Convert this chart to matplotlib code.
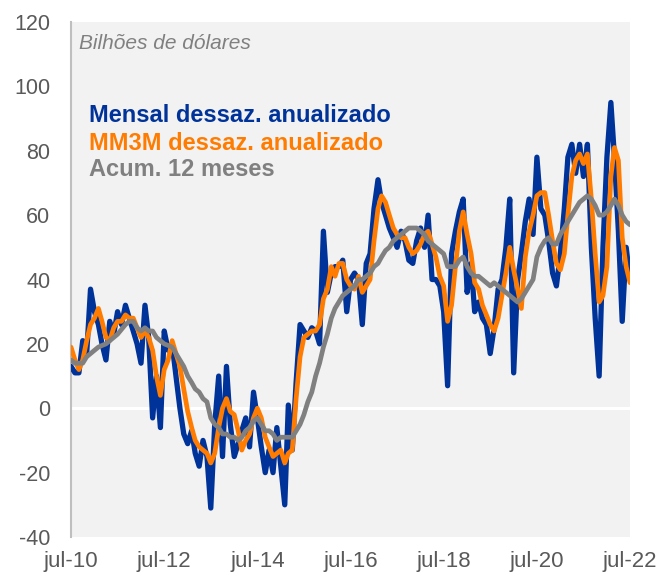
import matplotlib
matplotlib.use("Agg")
import matplotlib.pyplot as plt
import pandas as pd

plt.rcParams['font.family'] = ['Liberation Sans', 'DejaVu Sans']

start_month = "2010-07-01"

mensal = [
    13, 11, 11, 21, 17, 37, 30, 26, 20, 15,
    27, 23, 30, 26, 32, 28, 24, 20, 14, 32,
    22, -3, 10, -6, 24, 18, 20, 10, 0, -8,
    -11, -7, -14, -18, -10, -15, -31, -5, 10, -15,
    13, -5, -15, -11, -7, -3, -12, 5, -3, -12,
    -20, -13, -20, -6, -18, -30, 1, -13, 8, 26,
    24, 22, 25, 24, 20, 55, 36, 42, 44, 44,
    46, 30, 40, 42, 40, 26, 45, 48, 62, 71,
    64, 60, 56, 53, 50, 55, 52, 46, 45, 52,
    56, 50, 60, 40, 40, 38, 30, 7, 48, 55,
    61, 65, 36, 45, 30, 33, 28, 26, 17, 25,
    37, 40, 50, 65, 11, 40, 48, 58, 65, 54,
    78, 62, 60, 52, 42, 38, 48, 62, 78, 82,
    73, 82, 72, 82, 50, 28, 10, 50, 78, 95,
    78, 55, 27, 50, 40,
]

mm3m = [
    19, 15, 12, 15, 21, 26, 28, 31, 27, 22,
    21, 25, 27, 27, 29, 28, 28, 25, 22, 24,
    22, 18, 10, 4, 12, 15, 21, 17, 13, 6,
    -1, -6, -10, -12, -13, -14, -17, -14, -6, 0,
    3, -1, -2, -7, -13, -10, -8, -3, 0, -3,
    -9, -12, -15, -14, -13, -17, -14, -13, 3, 16,
    22, 23, 24, 24, 26, 34, 37, 44, 41, 45,
    45, 40, 38, 37, 41, 36, 38, 40, 52, 62,
    66, 64, 60, 56, 54, 53, 53, 50, 48, 49,
    51, 54, 55, 51, 47, 41, 38, 27, 32, 44,
    55, 61, 54, 48, 39, 37, 32, 29, 26, 24,
    28, 35, 42, 50, 43, 37, 31, 47, 55, 60,
    66, 67, 67, 60, 52, 45, 43, 48, 60, 72,
    77, 79, 76, 79, 65, 48, 33, 35, 44, 72,
    81, 77, 53, 44, 39,
]

acum12 = [
    15, 14, 14, 14, 16, 17, 18, 19, 19.5, 20,
    21, 22, 23, 24.5, 26, 27, 27, 25, 24, 25,
    24, 24, 22, 21, 20, 19.5, 19, 17, 15, 13,
    10, 8, 6, 5, 3, 2, -3, -5, -6, -8,
    -8, -9, -9, -10, -9, -7, -6, -4, -3, -5,
    -7, -7, -8, -10, -9, -9, -9, -9, -7, -5,
    -2, 2, 5, 10, 14, 19, 23, 28, 31, 33,
    35, 36, 37, 38, 40, 40, 41, 42, 44, 45,
    47, 49, 50, 52, 53, 54, 55, 56, 56, 56,
    55, 54, 52, 51, 50, 49, 48, 44, 44, 44,
    46, 47, 44, 42, 41, 41, 40, 39, 38, 39,
    38, 37, 36, 35, 34, 33, 34, 36, 38, 40,
    47, 50, 52, 53, 51, 51, 54, 56, 58, 60,
    62, 64, 65, 66, 65, 63, 60, 60, 61, 63,
    65, 63, 60, 58, 57,
]

series_labels = ["Mensal dessaz. anualizado", "MM3M dessaz. anualizado", "Acum. 12 meses"]
unit_label = "Bilhões de dólares"
yticks = [-40, -20, 0, 20, 40, 60, 80, 100, 120]
xtick_dates = ["2010-07-01", "2012-07-01", "2014-07-01", "2016-07-01",
               "2018-07-01", "2020-07-01", "2022-07-01"]
xtick_labels = ["jul-10", "jul-12", "jul-14", "jul-16", "jul-18", "jul-20", "jul-22"]

dates = pd.date_range(start_month, periods=len(mensal), freq="MS")

BLUE = "#003399"
ORANGE = "#FF7C00"
GRAY = "#808080"
TXT = "#595959"

fig = plt.figure(figsize=(6.58, 5.76), dpi=100)
ax = fig.add_axes([71/658, 1 - 537/576, (630-71)/658, (537-22)/576])
ax.set_facecolor("#F2F2F2")

ax.axhline(0, color="white", lw=2.2, zorder=1)

kw = dict(solid_joinstyle="round", solid_capstyle="round", zorder=3)
ax.plot(dates, mensal, color=BLUE, lw=3.8, **kw)
ax.plot(dates, mm3m, color=ORANGE, lw=3.4, **kw)
ax.plot(dates, acum12, color=GRAY, lw=3.4, **kw)

ax.set_xlim(dates[0], dates[-1])
ax.set_ylim(-40, 120)
ax.set_yticks(yticks)
ax.set_yticklabels([str(v) for v in yticks])
ax.set_xticks(pd.to_datetime(xtick_dates))
ax.set_xticklabels(xtick_labels)
ax.tick_params(axis="y", length=0, pad=15, labelsize=15.5, labelcolor=TXT)
ax.tick_params(axis="x", length=0, pad=10, labelsize=16, labelcolor=TXT)

for s in ["top", "right", "bottom"]:
    ax.spines[s].set_visible(False)
ax.spines["left"].set_color("#BFBFBF")
ax.spines["left"].set_linewidth(1.5)

ax.text(0.014, 0.959, unit_label, transform=ax.transAxes, fontsize=15,
        style="italic", color=GRAY, va="center", ha="left")

for lab, col, yy in zip(series_labels, [BLUE, ORANGE, GRAY], [0.819, 0.765, 0.714]):
    ax.text(0.032, yy, lab, transform=ax.transAxes, fontsize=17, fontweight="bold",
            color=col, va="center", ha="left")

fig.savefig("out.png", dpi=100)
